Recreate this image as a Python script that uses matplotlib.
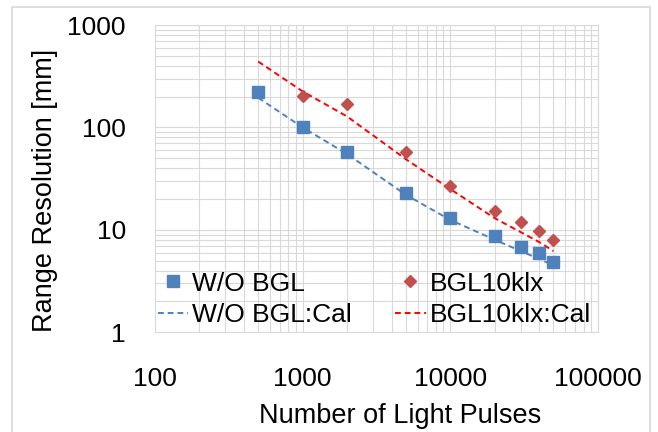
import matplotlib.pyplot as plt
from matplotlib.patches import Rectangle
from matplotlib.ticker import LogLocator, NullFormatter, FixedLocator, FixedFormatter

plt.rcParams["font.family"] = ["Liberation Sans", "DejaVu Sans"]

# measured points
pulses = [500, 1000, 2000, 5000, 10000, 20000, 30000, 40000, 50000]
res_no_bgl = [220, 100, 57, 23, 13, 8.7, 6.8, 6.0, 4.8]
pulses_bgl = [1000, 2000, 5000, 10000, 20000, 30000, 40000, 50000]
res_bgl = [205, 170, 57, 27, 15.2, 12.0, 9.8, 8.0]

# calculated curves
res_no_bgl_cal = [195, 100, 55, 22, 12.5, 8.0, 6.2, 5.2, 4.5]
res_bgl_cal = [440, 225, 128, 49, 25, 13, 9.5, 7.6, 6.2]

BLUE = "#4f81bd"
RED = "#c0504d"
FS = 19

fig = plt.figure(figsize=(6.58, 4.32), dpi=100)
ax = fig.add_axes([0.2356, 0.231, 0.673, 0.711])

h1, = ax.plot(pulses, res_no_bgl, "s", color=BLUE, markersize=9, label="W/O BGL", zorder=4)
h2, = ax.plot(pulses_bgl, res_bgl, "D", color=RED, markersize=6.5, label="BGL10klx", zorder=4)
h3, = ax.plot(pulses, res_no_bgl_cal, "--", color=BLUE, lw=1.4, dashes=(3, 2),
              label="W/O BGL:Cal", zorder=3)
h4, = ax.plot(pulses, res_bgl_cal, "--", color="#ff0000", lw=1.4, dashes=(3, 2),
              label="BGL10klx:Cal", zorder=3)

ax.set_xscale("log")
ax.set_yscale("log")
ax.set_xlim(100, 100000)
ax.set_ylim(1, 1000)

ax.xaxis.set_major_locator(FixedLocator([100, 1000, 10000, 100000]))
ax.xaxis.set_major_formatter(FixedFormatter(["100", "1000", "10000", "100000"]))
ax.yaxis.set_major_locator(FixedLocator([1, 10, 100, 1000]))
ax.yaxis.set_major_formatter(FixedFormatter(["1", "10", "100", "1000"]))
for axis in (ax.xaxis, ax.yaxis):
    axis.set_minor_locator(LogLocator(base=10, subs=range(2, 10)))
    axis.set_minor_formatter(NullFormatter())

ax.grid(which="both", color="#d9d9d9", lw=0.8)
ax.set_axisbelow(True)
for s in ax.spines.values():
    s.set_color("#d9d9d9")
    s.set_linewidth(0.8)

ax.tick_params(which="both", length=0, labelsize=FS)
ax.tick_params(axis="x", pad=25)
ax.tick_params(axis="y", pad=21)

ax.set_xlabel("Number of Light Pulses", fontsize=FS + 0.5)
ax.set_ylabel("Range Resolution [mm]", fontsize=FS + 0.5)
ax.xaxis.set_label_coords(0.553, -0.23)
ax.yaxis.set_label_coords(-0.219, 0.46)

# rows: measured on top, calculated below
ax.legend([h1, h3, h2, h4], [h.get_label() for h in (h1, h3, h2, h4)],
          ncol=2, frameon=False, fontsize=FS, loc="lower left",
          bbox_to_anchor=(0.0, 0.008, 0.99, 0.3), mode="expand",
          handlelength=1.15, handletextpad=0.15, columnspacing=0.5,
          labelspacing=0.28, borderaxespad=0.0, borderpad=0.1)

# chart border
fig.patches.append(Rectangle((0.018, -0.01), 0.97, 0.994, transform=fig.transFigure,
                             fill=False, edgecolor="#d9d9d9", lw=1.2))

fig.savefig("out.png", dpi=100)
